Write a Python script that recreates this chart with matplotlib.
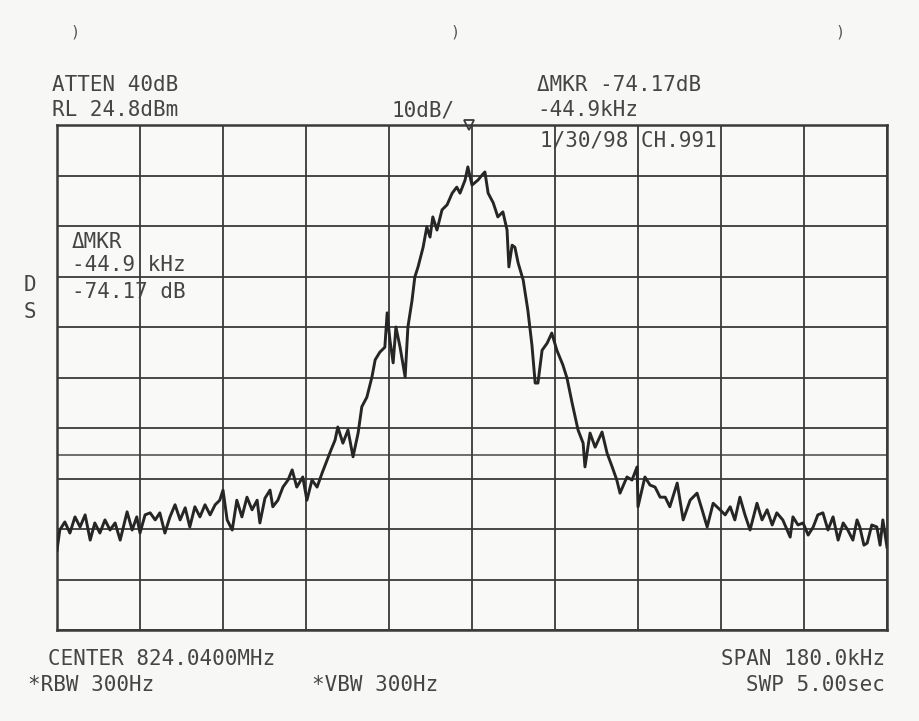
import numpy as np
import matplotlib
matplotlib.use("Agg")
import matplotlib.pyplot as plt

# ---- instrument settings (from the screen annotations) ----
ref_level = 24.8        # dBm (top of graticule)
db_per_div = 10.0
span_khz = 180.0
display_line = -40.5    # dBm

# ---- trace: frequency offset from center (kHz) and level (dBm) ----
freq_khz = [-90.0, -89.4, -88.3, -87.2, -86.1, -85.0, -83.9, -82.8, -81.8, -80.7,
            -79.6, -78.5, -77.4, -76.3, -74.8, -73.7, -72.7, -72.0, -70.9, -69.8,
            -68.7, -67.7, -66.6, -65.5, -64.4, -63.3, -62.2, -61.2, -60.1, -59.0,
            -57.9, -56.8, -55.7, -54.7, -54.0, -53.1, -52.0, -51.0, -49.9, -48.8,
            -47.7, -46.6, -46.0, -44.9, -43.8, -43.2, -42.1, -41.0, -39.9, -39.0,
            -38.0, -36.7, -35.8, -34.7, -33.6, -32.5, -31.4, -30.6, -29.7, -29.1,
            -28.0, -26.9, -25.8, -24.7, -23.9, -22.8, -21.7, -21.0, -20.0, -18.9,
            -18.4, -17.8, -17.1, -16.5, -15.6, -14.5, -13.9, -13.0, -12.4, -11.7,
            -10.6, -9.8, -9.1, -8.5, -7.6, -6.5, -5.4, -4.3, -3.3, -2.6,
            -1.5, -0.9, 0.0, 1.3, 2.2, 2.8, 3.5, 4.6, 5.6, 6.7,
            7.6, 8.0, 8.7, 9.3, 10.0, 11.1, 12.1, 13.0, 13.7, 14.3,
            15.2, 16.3, 17.3, 18.4, 19.7, 20.6, 21.7, 23.0, 24.1, 24.5,
            25.6, 26.7, 28.2, 29.3, 30.4, 31.4, 32.1, 33.6, 34.7, 35.8,
            36.0, 37.5, 38.6, 39.7, 40.8, 41.9, 42.9, 44.5, 45.8, 47.3,
            48.8, 49.9, 51.0, 52.3, 53.8, 54.9, 56.0, 57.0, 58.1, 59.2,
            60.3, 61.8, 62.9, 64.0, 65.1, 66.1, 67.4, 69.0, 69.6, 70.7,
            71.8, 72.9, 74.0, 75.0, 76.1, 77.2, 78.3, 79.4, 80.5, 81.5,
            82.6, 83.5, 84.1, 85.0, 85.7, 86.7, 87.8, 88.5, 89.1, 90.0]
level_dbm = [-59.4, -55.4, -53.8, -56.0, -52.8, -54.8, -52.4, -57.4, -54.0, -56.0,
             -53.4, -55.4, -54.0, -57.4, -51.8, -55.4, -52.8, -56.0, -52.4, -52.0,
             -53.4, -52.0, -56.0, -52.8, -50.4, -53.4, -51.0, -54.8, -50.8, -52.8,
             -50.4, -52.4, -50.4, -49.5, -47.5, -53.4, -55.4, -49.5, -52.8, -48.9,
             -51.4, -49.5, -54.0, -49.1, -47.5, -50.8, -49.5, -46.9, -45.5, -43.5,
             -46.9, -44.9, -49.5, -45.5, -46.9, -44.1, -41.5, -39.6, -37.6, -35.0,
             -38.2, -35.6, -40.9, -36.2, -31.0, -29.1, -25.1, -21.7, -20.2, -19.2,
             -12.4, -17.8, -22.3, -15.2, -19.2, -25.1, -15.2, -9.9, -5.3, -3.3,
             0.6, 4.6, 2.6, 6.6, 4.0, 8.0, 9.0, 11.3, 12.5, 11.3,
             13.9, 16.5, 12.9, 13.9, 14.9, 15.5, 11.3, 9.4, 6.6, 7.6,
             4.0, -3.3, 1.0, 0.6, -2.5, -5.9, -11.8, -18.8, -26.3, -26.3,
             -19.8, -18.4, -16.4, -19.8, -22.7, -25.3, -30.2, -35.6, -38.2, -42.9,
             -36.2, -39.0, -36.0, -40.2, -42.9, -45.5, -48.1, -44.9, -45.5, -42.9,
             -50.8, -44.9, -46.5, -46.9, -48.9, -48.9, -50.8, -46.1, -53.4, -49.5,
             -48.1, -51.4, -54.8, -50.1, -51.4, -52.4, -50.8, -53.4, -48.9, -52.4,
             -55.4, -50.1, -53.4, -51.4, -54.4, -52.0, -53.4, -56.8, -52.8, -54.4,
             -54.0, -56.4, -54.8, -52.4, -52.0, -55.4, -52.8, -57.4, -54.0, -55.4,
             -57.4, -53.4, -54.8, -58.4, -58.0, -54.4, -54.8, -58.4, -53.4, -58.8]

W, H = 920, 721
INK = "#3a3a3a"
fig = plt.figure(figsize=(W / 100, H / 100), dpi=100, facecolor="#f7f7f5")

x0, x1, y0, y1 = 57, 887, 125, 630
ax = fig.add_axes([x0 / W, 1 - y1 / H, (x1 - x0) / W, (y1 - y0) / H])
ax.set_facecolor("#f9f9f7")
ax.set_xlim(-span_khz / 2, span_khz / 2)
ax.set_ylim(ref_level - 10 * db_per_div, ref_level)

ax.set_xticks(np.arange(-span_khz / 2, span_khz / 2 + 0.1, span_khz / 10))
ax.set_yticks([ref_level - k * db_per_div for k in range(11)])
ax.grid(True, color=INK, linewidth=1.3)
ax.tick_params(length=0, labelleft=False, labelbottom=False)
for s in ax.spines.values():
    s.set_color(INK)
    s.set_linewidth(1.8)
ax.axhline(display_line, color=INK, linewidth=1.2, alpha=0.85)

ax.plot(freq_khz, level_dbm, color="#262626", linewidth=2.1, zorder=5)
ax.plot([-0.6], [ref_level], marker="v", markersize=7, markerfacecolor="none",
        markeredgecolor=INK, markeredgewidth=1.3, clip_on=False, zorder=6)

font = dict(family="DejaVu Sans Mono", color="#454545", fontsize=15)

def ftext(x, y, s, ha="left", **kw):
    d = dict(font)
    d.update(kw)
    fig.text(x / W, 1 - y / H, s, ha=ha, va="center", **d)

ftext(52, 85, "ATTEN 40dB")
ftext(52, 110, "RL 24.8dBm")
ftext(455, 110, "10dB/", ha="right")
ftext(537, 85, "\u0394MKR -74.17dB")
ftext(537, 110, "-44.9kHz")
ftext(540, 141, "1/30/98 CH.991")
ftext(72, 242, "\u0394MKR")
ftext(72, 265, "-44.9 kHz")
ftext(72, 292, "-74.17 dB")
ftext(30, 285, "D", ha="center")
ftext(30, 312, "S", ha="center")
ftext(48, 659, "CENTER 824.0400MHz")
ftext(885, 659, "SPAN 180.0kHz", ha="right")
ftext(28, 685, "*RBW 300Hz")
ftext(312, 685, "*VBW 300Hz")
ftext(885, 685, "SWP 5.00sec", ha="right")
for px in (75, 455, 840):
    ftext(px, 32, ")", ha="center", fontsize=11, color="#555555")

fig.savefig("out.png", dpi=100, facecolor=fig.get_facecolor())
